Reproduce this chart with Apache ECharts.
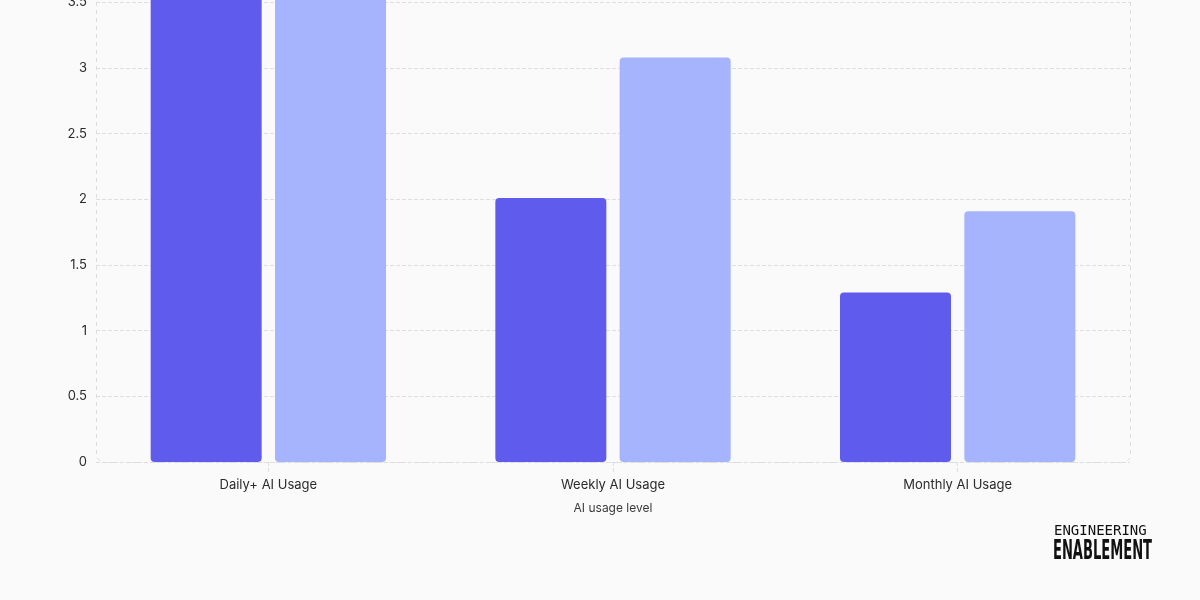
<!DOCTYPE html>
<html>
<head>
<meta charset="utf-8">
<script src="https://cdn.jsdelivr.net/npm/echarts@6/dist/echarts.min.js"></script>
<style>
  html, body { margin: 0; padding: 0; background: #fafafa; }
  #chart { width: 1200px; height: 600px; }
</style>
</head>
<body>
<div id="chart"></div>
<script>
const categories = ['Daily+ AI Usage', 'Weekly AI Usage', 'Monthly AI Usage']
// first group runs past the top of the axis in the source picture
const seriesA = [4.3, 2.01, 1.29]
const seriesB = [4.1, 3.08, 1.91]
const yTicks = [0, 0.5, 1, 1.5, 2, 2.5, 3, 3.5]

const grid = { left: 96, right: 70, top: 2.3, bottom: 138 }
const font = 'Inter, "Noto Sans", sans-serif'
const dash = '#dedede'

// squeeze the logo word to its width in the picture
const logoFont = 'bold 27px "DejaVu Sans Condensed", "DejaVu Sans", sans-serif'
const ctx = document.createElement('canvas').getContext('2d')
ctx.font = logoFont
const logoScale = 99 / ctx.measureText('ENABLEMENT').width

const chart = echarts.init(document.getElementById('chart'))

chart.setOption({
  backgroundColor: '#fafafa',
  animation: false,
  grid: { ...grid, containLabel: false, outerBoundsMode: 'none' },
  xAxis: {
    type: 'category',
    data: categories,
    name: 'AI usage level',
    nameLocation: 'middle',
    nameGap: 40,
    nameTextStyle: { color: '#3a3a3a', fontSize: 12, fontFamily: font },
    axisLine: { show: false },
    axisTick: {
      show: true,
      alignWithLabel: true,
      length: 12,
      lineStyle: { color: dash, type: 'dashed' },
    },
    axisLabel: { color: '#2b2b2b', fontSize: 13, fontFamily: font, margin: 17 },
  },
  yAxis: {
    type: 'value',
    min: 0,
    max: yTicks[yTicks.length - 1],
    interval: 0.5,
    axisLine: { show: false },
    axisTick: { show: false },
    axisLabel: { color: '#2b2b2b', fontSize: 13, fontFamily: font, margin: 9 },
    splitLine: { lineStyle: { color: dash, type: 'dashed' } },
  },
  series: [
    {
      type: 'bar',
      data: seriesA,
      barWidth: 111,
      barGap: '12%',
      clip: false,
      itemStyle: { color: '#5e5bed', borderRadius: 4 },
    },
    {
      type: 'bar',
      data: seriesB,
      barWidth: 111,
      clip: false,
      itemStyle: { color: '#a5b4fc', borderRadius: 4 },
    },
  ],
  graphic: [
    {
      type: 'rect',
      silent: true,
      z: 0,
      shape: {
        x: grid.left + 0.5,
        y: -20,
        width: 1200 - grid.left - grid.right,
        height: 600 - grid.bottom + 20.5,
        r: [0, 0, 8, 8],
      },
      style: { fill: 'none', stroke: dash, lineWidth: 1, lineDash: [4, 4] },
    },
    {
      type: 'text',
      x: 1054,
      y: 524,
      style: {
        text: 'ENGINEERING',
        fill: '#111',
        font: '14px "DejaVu Sans Mono", monospace',
      },
    },
    {
      type: 'text',
      x: 1053,
      y: 538,
      scaleX: logoScale,
      style: {
        text: 'ENABLEMENT',
        fill: '#111',
        font: logoFont,
      },
    },
  ],
})
</script>
</body>
</html>
